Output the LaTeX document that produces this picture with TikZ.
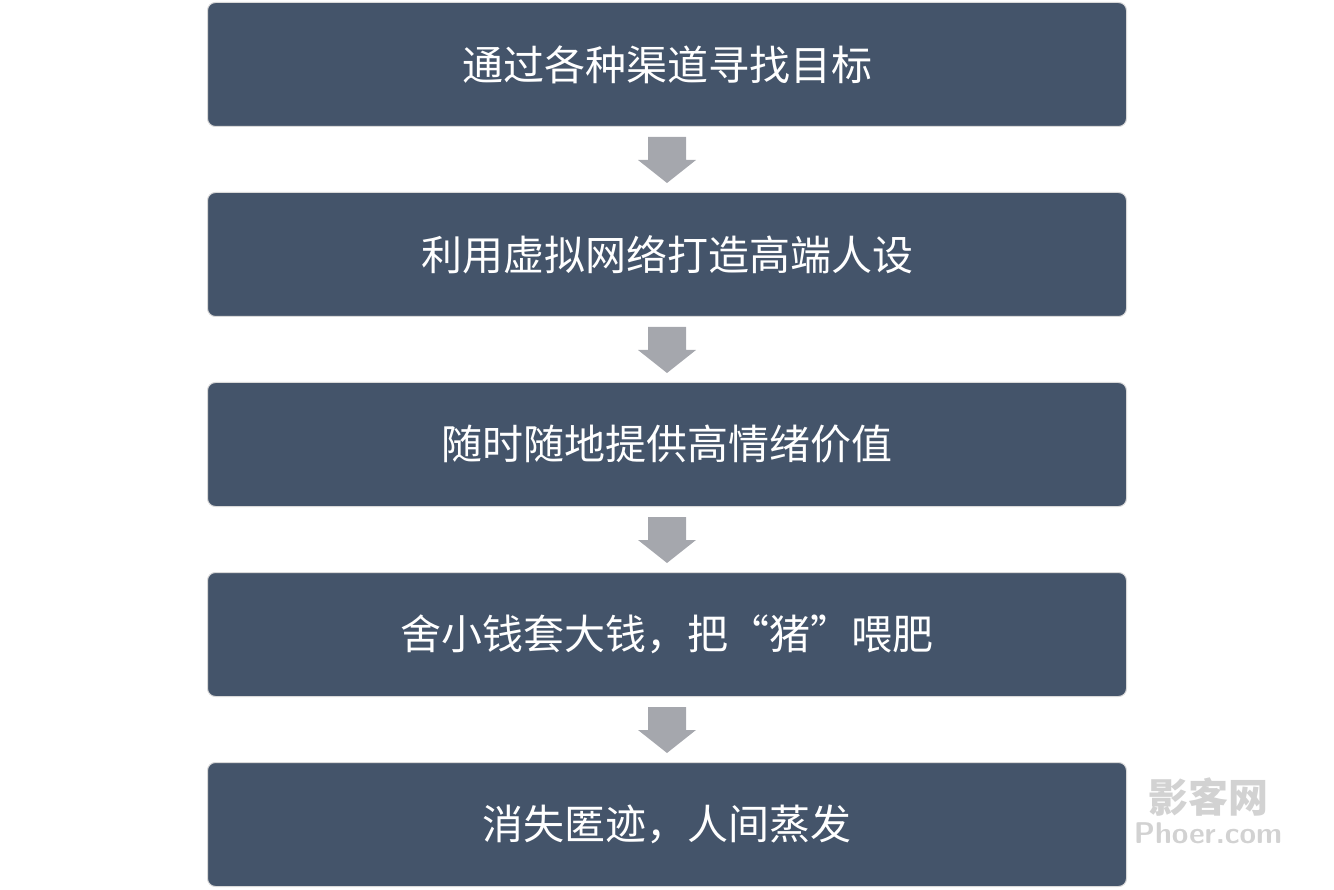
\documentclass[tikz,border=0pt]{standalone}
\usepackage{fontspec}
\newfontfamily\cjk{Noto Sans CJK SC}
\usetikzlibrary{positioning,calc}
\definecolor{boxblue}{HTML}{44546A}
\definecolor{arrowgray}{HTML}{A5A7AD}
\tikzset{x=1pt,y=1pt}
\tikzstyle{stepbox}=[rounded corners=8pt,fill=boxblue,draw=gray!30,line width=1pt,minimum width=919pt,minimum height=124pt,inner sep=0pt,text=white,font=\cjk\fontsize{41}{46}\selectfont]
\tikzstyle{downarrow}=[fill=arrowgray]

\begin{document}
\begin{tikzpicture}
	\useasboundingbox (0,0) rectangle (1334,-890);
	\node [style=stepbox] (b1) at (667,-64.5) {通过各种渠道寻找目标};
	\node [style=stepbox,below=65pt of b1] (b2) {利用虚拟网络打造高端人设};
	\node [style=stepbox,below=65pt of b2] (b3) {随时随地提供高情绪价值};
	\node [style=stepbox,below=65pt of b3] (b4) {舍小钱套大钱，把“猪”喂肥};
	\node [style=stepbox,below=65pt of b4] (b5) {消失匿迹，人间蒸发};
	\foreach \a/\b in {b1/b2,b2/b3,b3/b4,b4/b5}{
		\coordinate (t) at ($(\a.south)+(0,-10)$);
		\fill[style=downarrow] ($(t)+(-19,0)$) -- ($(t)+(19,0)$) -- ($(t)+(19,-23)$) -- ($(t)+(29,-23)$)
			-- ($(t)+(0,-46)$) -- ($(t)+(-29,-23)$) -- ($(t)+(-19,-23)$) -- cycle;
	}
	\node [font=\cjk\bfseries\fontsize{40}{40}\selectfont,text=gray!35] (wm1) at (1208,-797) {影客网};
	\node [font=\sffamily\bfseries\fontsize{30}{30}\selectfont,text=gray!35] (wm2) at (1208,-833) {Phoer.com};
\end{tikzpicture}
\end{document}
